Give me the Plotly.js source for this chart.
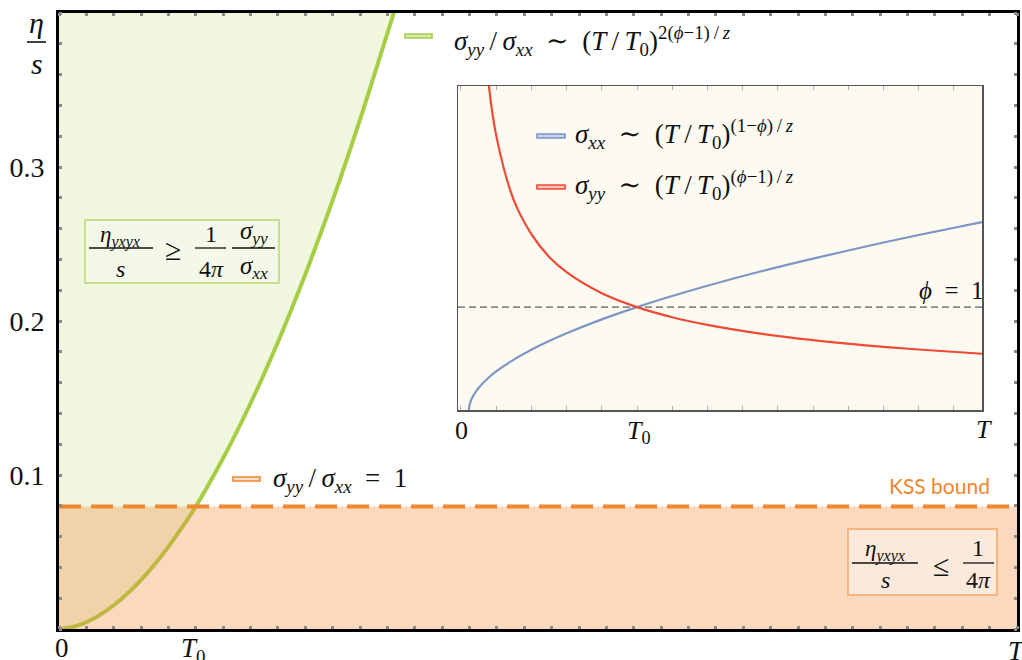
<!DOCTYPE html>
<html>
<head>
<meta charset="utf-8">
<script src="https://cdn.plot.ly/plotly-3.0.1.min.js"></script>
<style>
  html, body { margin: 0; padding: 0; background: #ffffff; }
  #chart { width: 1022px; height: 660px; }
</style>
</head>
<body>
<div id="chart"></div>
<script>
// ---- main panel: temperature in units of T0, viscosity ratio eta/s ----
const mainT      = [0, 0.1, 0.2, 0.3, 0.4, 0.5, 0.6, 0.7, 0.8, 0.9, 1.0, 1.2, 1.4, 1.6, 1.8, 2.0, 2.2, 2.4, 2.5];
const ratioCurve = [0, 0.0013, 0.0044, 0.0092, 0.0154, 0.023, 0.0319, 0.0421, 0.0535, 0.0661, 0.0796, 0.111, 0.1466, 0.1864, 0.2304, 0.2785, 0.331, 0.387, 0.415];
const kssBound   = 1 / (4 * Math.PI);
const mainTMax   = 7;
const etaMax     = 0.4;
const mainXTickVals = [0, 1, 7];
const mainXTickText = ['0', '<i>T</i><sub>0</sub>', '<i>T</i>'];
const mainYTickVals = [0.1, 0.2, 0.3];
const mainYTickText = ['0.1', '0.2', '0.3'];

// ---- inset: conductivities against temperature ----
const insetT  = [0.045, 0.05, 0.07, 0.1, 0.15, 0.2, 0.3, 0.4, 0.5, 0.6, 0.8, 1.0, 1.2, 1.4, 1.7, 2.0, 2.3, 2.6, 2.96];
const sigmaXX = [0, 0.059, 0.14, 0.214, 0.304, 0.375, 0.49, 0.586, 0.67, 0.746, 0.881, 1.0, 1.108, 1.208, 1.346, 1.472, 1.59, 1.701, 1.826];
const sigmaYY = [null, 17, 7.1, 4.67, 3.29, 2.67, 2.04, 1.71, 1.49, 1.34, 1.135, 1.0, 0.902, 0.828, 0.743, 0.679, 0.629, 0.588, 0.547];
const phiOneLevel = 1;
const insetTRange = [-0.017, 2.96];
const insetSRange = [0, 3.15];
const insetXTickVals = [0, 1, 2.96];
const insetXTickText = ['0', '<i>T</i><sub>0</sub>', '<i>T</i>'];

// ---- styling ----
const SERIF = 'Liberation Serif, DejaVu Serif, serif';
const GREEN = '#a7cd45';
const ORANGE = '#f0862d';
const BLUE = '#7d97c4';
const RED = '#ee4a35';
const SP = '\u2002';   // en space around relations
const TH = '\u2009';   // thin space

// plot area in pixels: left 59, top 13, 958 x 616
const M = { l: 59, r: 5, t: 13, b: 31 };
const PW = 1022 - M.l - M.r, PH = 660 - M.t - M.b;
const px = v => (v - M.l) / PW;
const py = v => (M.t + PH - v) / PH;
// data x of the main panel -> pixel column
const mainCol = t => M.l + 2 + t / mainTMax * (PW - 2);

// closed outline of the region above the ratio curve
const greenX = mainT.concat([0]);
const greenY = ratioCurve.concat([etaMax + 0.02]);

const traces = [
  { x: greenX, y: greenY, type: 'scatter', mode: 'lines', fill: 'toself',
    fillcolor: 'rgba(166,206,57,0.17)', line: { width: 0 }, hoverinfo: 'skip' },
  { x: mainT, y: ratioCurve, type: 'scatter', mode: 'lines',
    line: { color: GREEN, width: 4, shape: 'spline' } },
  { x: [0, mainTMax], y: [kssBound, kssBound], type: 'scatter', mode: 'lines',
    fill: 'tozeroy', fillcolor: 'rgba(242,140,60,0.33)', line: { width: 0 }, hoverinfo: 'skip' },
  { x: [0, mainTMax], y: [kssBound, kssBound], type: 'scatter', mode: 'lines',
    line: { color: ORANGE, width: 4, dash: '22px,10px' } },
  { x: insetTRange, y: [phiOneLevel, phiOneLevel], xaxis: 'x2', yaxis: 'y2', type: 'scatter', mode: 'lines',
    line: { color: '#8a8a8a', width: 1.6, dash: '7px,4px' } },
  { x: insetT, y: sigmaXX, xaxis: 'x2', yaxis: 'y2', type: 'scatter', mode: 'lines',
    line: { color: BLUE, width: 2.2, shape: 'spline' } },
  { x: insetT, y: sigmaYY, xaxis: 'x2', yaxis: 'y2', type: 'scatter', mode: 'lines',
    line: { color: RED, width: 2.2, shape: 'spline' }, connectgaps: false }
];

function ann(x, y, text, size, extra) {
  return Object.assign({
    xref: 'paper', yref: 'paper', x: px(x), y: py(y), text: text, showarrow: false,
    xanchor: 'center', yanchor: 'middle',
    font: { family: SERIF, size: size, color: '#111' }
  }, extra || {});
}
function bar(x0, x1, y, color, w) {
  return { type: 'line', xref: 'paper', yref: 'paper', x0: px(x0), x1: px(x1), y0: py(y), y1: py(y),
           line: { color: color || '#111', width: w || 1.3 } };
}
function box(x0, y0, x1, y1, fill, stroke, w) {
  return { type: 'rect', xref: 'paper', yref: 'paper', x0: px(x0), x1: px(x1), y0: py(y1), y1: py(y0),
           fillcolor: fill, line: { color: stroke, width: w || 1.5 } };
}

const sig = s => '<i>σ</i><sub><i>' + s + '</i></sub>';
const etaYX = '<i>η</i><sub><i>yxyx</i></sub>';
const tRatio = '(<i>T</i>' + TH + '/' + TH + '<i>T</i><sub>0</sub>)';

const shapes = [
  // inset background
  Object.assign(box(458, 86, 982, 410, '#fdfaf2', 'rgba(0,0,0,0)', 0), { layer: 'below' }),
  // y title fraction bar
  bar(27, 46, 42, '#111', 1.6),
  // legend swatches
  box(405, 34, 432, 38, '#d6eab0', GREEN, 1.6),
  box(233, 477, 260, 481, '#fbe0cc', ORANGE, 1.6),
  box(537, 134, 565, 138, '#c6d3ea', BLUE, 1.6),
  box(537, 185, 565, 189, '#f8c0b8', RED, 1.6),
  // inequality boxes
  box(85, 220, 279, 283, '#f4f8e9', '#b8d56e', 1.5),
  box(848, 529, 997, 595, '#fbe9dc', '#f2a66a', 1.5),
  bar(89, 153, 248), bar(195, 226, 248), bar(232, 275, 248),
  bar(852, 918, 563), bar(963, 994, 563)
];

const annotations = [
  // y axis title eta / s
  ann(36, 22, '<i>η</i>', 30),
  ann(37, 63, '<i>s</i>', 30),
  // x tick labels of the main panel (bottom edge of the page trims them)
  ann(mainCol(mainXTickVals[0]) + 1, 648, mainXTickText[0], 27),
  ann(mainCol(mainXTickVals[1]) - 5, 650, mainXTickText[1], 27),
  ann(mainCol(mainXTickVals[2]) - 1, 651, mainXTickText[2], 27),
  // x tick labels of the inset
  ann(461, 430, insetXTickText[0], 26),
  ann(639, 432, insetXTickText[1], 26),
  ann(984, 429, insetXTickText[2], 26),
  // curve labels
  ann(452, 41, sig('yy') + TH + '/' + TH + sig('xx') + SP + '∼' + SP + tRatio + '<sup>2(<i>ϕ</i>−1)' + TH + '/' + TH + '<i>z</i></sup>', 27, { xanchor: 'left' }),
  ann(271, 480, sig('yy') + TH + '/' + TH + sig('xx') + SP + '=' + SP + '1', 27, { xanchor: 'left' }),
  ann(573, 134, sig('xx') + SP + '∼' + SP + tRatio + '<sup>(1−<i>ϕ</i>)' + TH + '/' + TH + '<i>z</i></sup>', 27, { xanchor: 'left' }),
  ann(573, 185, sig('yy') + SP + '∼' + SP + tRatio + '<sup>(<i>ϕ</i>−1)' + TH + '/' + TH + '<i>z</i></sup>', 27, { xanchor: 'left' }),
  ann(951, 290, '<i>ϕ</i>' + SP + '=' + SP + '1', 25),
  ann(939, 485, 'KSS bound', 21, { font: { family: 'Lato, Open Sans, sans-serif', size: 21, color: ORANGE } }),
  // eta/s >= (1/4pi) sigma_yy/sigma_xx
  ann(120, 236, etaYX, 23), ann(120, 269, '<i>s</i>', 24), ann(173, 250, '≥', 30),
  ann(211, 234, '1', 24), ann(211, 269, '4<i>π</i>', 24),
  ann(254, 233, sig('yy'), 25), ann(254, 267, sig('xx'), 25),
  // eta/s <= 1/4pi
  ann(885, 550, etaYX, 23), ann(885, 580, '<i>s</i>', 24), ann(941, 565, '≤', 30),
  ann(978, 548, '1', 24), ann(978, 580, '4<i>π</i>', 24)
];

const layout = {
  width: 1022, height: 660,
  margin: M,
  paper_bgcolor: '#ffffff', plot_bgcolor: 'rgba(0,0,0,0)',
  showlegend: false,
  font: { family: SERIF, size: 24, color: '#111' },
  xaxis: {
    range: [0, mainTMax], tickmode: 'array', tickvals: mainXTickVals, ticktext: mainXTickText,
    showticklabels: false,
    ticks: '', showgrid: false, zeroline: false, showline: true, mirror: 'allticks',
    linecolor: '#000', linewidth: 3,
    minor: { tick0: 0, dtick: 0.2, ticks: 'inside', ticklen: 3, tickwidth: 3, tickcolor: '#8a8a8a', showgrid: false }
  },
  yaxis: {
    range: [0, etaMax], tickmode: 'array', tickvals: mainYTickVals, ticktext: mainYTickText,
    ticks: '', showgrid: false, zeroline: false, showline: true, mirror: 'allticks',
    linecolor: '#000', linewidth: 3, tickfont: { family: SERIF, size: 28 }, ticklabelstandoff: 6,
    minor: { tick0: 0, dtick: 0.02, ticks: 'inside', ticklen: 3, tickwidth: 3, tickcolor: '#8a8a8a', showgrid: false }
  },
  xaxis2: {
    domain: [px(458), px(982)], anchor: 'y2', range: insetTRange,
    tickmode: 'array', tickvals: insetXTickVals, ticktext: insetXTickText, showticklabels: false, ticks: '',
    showgrid: false, zeroline: false, showline: true, mirror: 'allticks',
    linecolor: '#555', linewidth: 1.5,
    minor: { tick0: 0, dtick: 0.2, ticks: 'inside', ticklen: 4, tickwidth: 1, tickcolor: '#b0b0b0', showgrid: false }
  },
  yaxis2: {
    domain: [py(410), py(86)], anchor: 'x2', range: insetSRange,
    showticklabels: false, ticks: '', showgrid: false, zeroline: false, showline: true, mirror: 'allticks',
    linecolor: '#555', linewidth: 1.5,
    minor: { tick0: 0, dtick: 0.5, ticks: 'inside', ticklen: 4, tickwidth: 1, tickcolor: '#b0b0b0', showgrid: false }
  },
  shapes: shapes,
  annotations: annotations
};

Plotly.newPlot('chart', traces, layout, { staticPlot: true, displayModeBar: false });
</script>
</body>
</html>
